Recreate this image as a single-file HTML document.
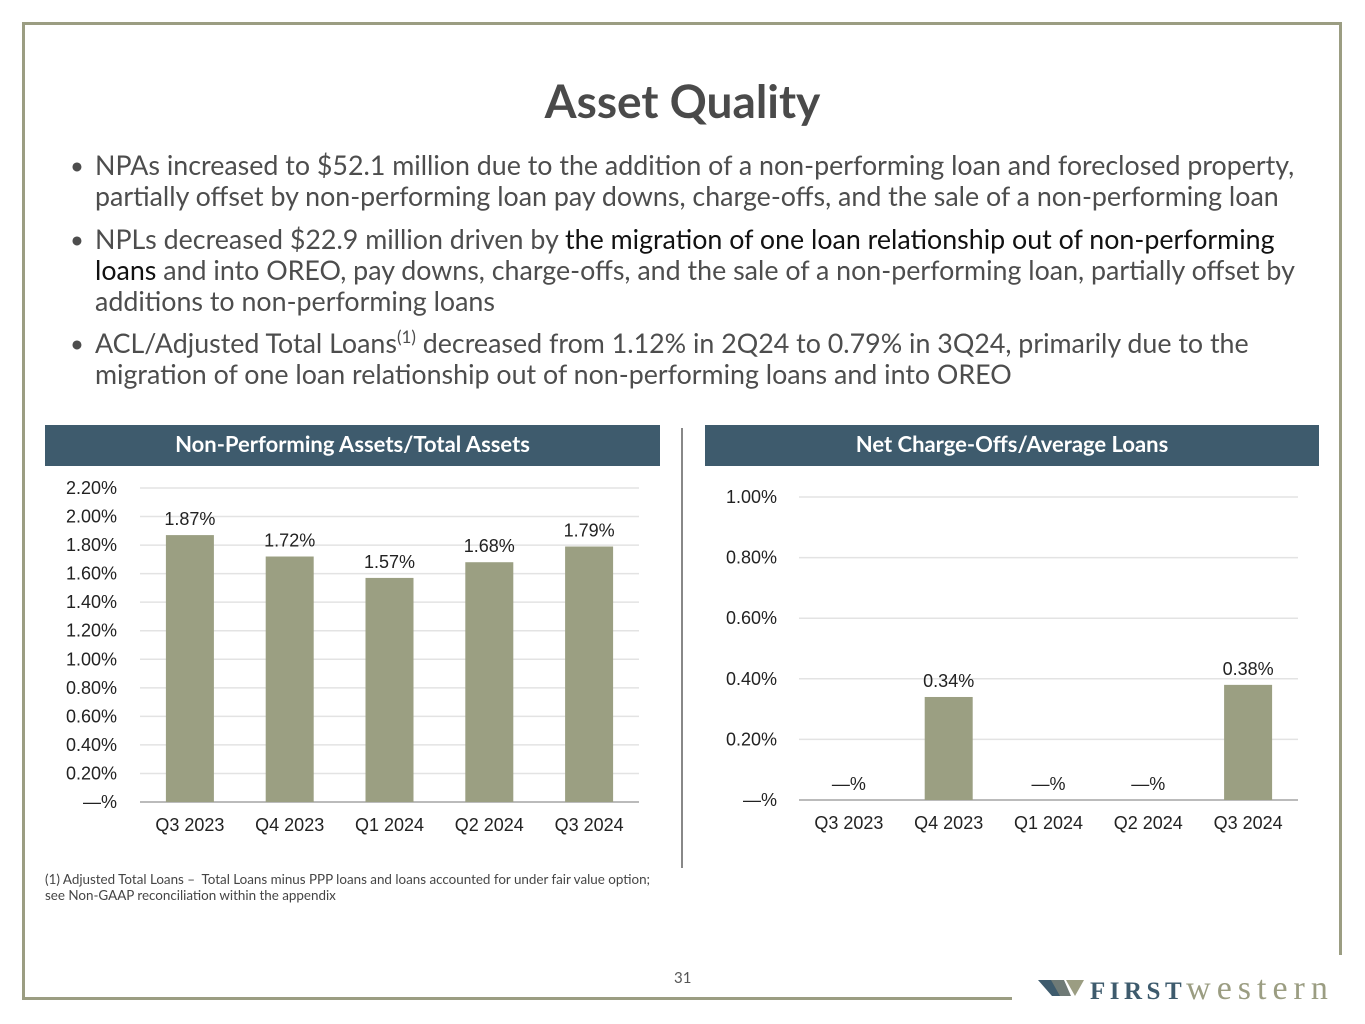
<!DOCTYPE html>
<html><head><meta charset="utf-8"><style>
body{margin:0;width:1365px;height:1024px;background:#fff;position:relative;font-family:"Lato","Liberation Sans",sans-serif;overflow:hidden}
.abs{position:absolute}
.frame{border:3px solid #9b9d82}
h1{position:absolute;top:73px;left:0;width:1365px;text-align:center;margin:0;font-size:46px;color:#4a4a4a;font-weight:bold}
.bul{position:absolute;left:70px;width:1260px;font-size:26.8px;line-height:31px;color:#4d4d4d;white-space:nowrap}
.bul .d{position:absolute;left:0;font-size:24px}
.bul .t{margin-left:25px}
.hdr{position:absolute;top:425px;height:41px;background:#3e5b6d;color:#fff;font-size:22px;font-weight:bold;text-align:center;line-height:38px}
svg text{font-family:"Liberation Sans",sans-serif}
</style></head><body>
<div class="abs frame" style="left:22px;top:22px;width:1314px;height:975px;border-bottom:none;border-right:none"></div>
<div class="abs" style="left:1339px;top:22px;width:3px;height:933px;background:#9b9d82"></div>
<div class="abs" style="left:22px;top:997px;width:990px;height:3px;background:#9b9d82"></div>
<h1>Asset Quality</h1>
<div class="bul" style="top:150px"><span class="d">•</span><div class="t">NPAs increased to $52.1 million due to the addition of a non-performing loan and foreclosed property,<br>partially offset by non-performing loan pay downs, charge-offs, and the sale of a non-performing loan</div></div>
<div class="bul" style="top:224px"><span class="d">•</span><div class="t">NPLs decreased $22.9 million driven by <span style="color:#111">the migration of one loan relationship out of non-performing<br>loans</span> and into OREO, pay downs, charge-offs, and the sale of a non-performing loan, partially offset by<br>additions to non-performing loans</div></div>
<div class="bul" style="top:328px"><span class="d">•</span><div class="t">ACL/Adjusted Total Loans<sup style="font-size:17px;line-height:0">(1)</sup> decreased from 1.12% in 2Q24 to 0.79% in 3Q24, primarily due to the<br>migration of one loan relationship out of non-performing loans and into OREO</div></div>
<div class="hdr" style="left:45px;width:615px">Non-Performing Assets/Total Assets</div>
<div class="hdr" style="left:705px;width:614px">Net Charge-Offs/Average Loans</div>
<div class="abs" style="left:681px;top:428px;width:2px;height:440px;background:#888"></div>
<svg class="abs" style="left:0;top:0" width="1365" height="1024" id="charts"></svg>
<div class="abs" style="left:45px;top:871px;font-size:13.4px;color:#444;line-height:16px">(1) Adjusted Total Loans –&nbsp; Total Loans minus PPP loans and loans accounted for under fair value option;<br>see Non-GAAP reconciliation within the appendix</div>
<div class="abs" style="left:674px;top:969px;font-size:15px;color:#555">31</div>
<div class="abs" style="left:1038px;top:970px;white-space:nowrap">
<svg width="46" height="24" style="vertical-align:-1px"><polygon points="0,4 16,4 23,20 14,20" fill="#3e5b6d"/><polygon points="13,4 26,4 33,20 22,20" fill="#6f7a76"/><polygon points="28,4 46,4 37,20" fill="#9b9d82"/></svg><span style="font-family:'Liberation Serif',serif;font-size:25px;color:#3e5b6d;font-weight:bold;letter-spacing:4.5px;margin-left:6px">FIRST</span><span style="font-family:'Liberation Serif',serif;font-size:34px;color:#9b9d82;letter-spacing:6px">western</span></div>
<script>
const cats=["Q3 2023","Q4 2023","Q1 2024","Q2 2024","Q3 2024"];
const npaVals=[1.87,1.72,1.57,1.68,1.79];
const npaTicks=[0,0.2,0.4,0.6,0.8,1.0,1.2,1.4,1.6,1.8,2.0,2.2];
const ncoVals=[0,0.34,0,0,0.38];
const ncoTicks=[0,0.2,0.4,0.6,0.8,1.0];
const svg=document.getElementById('charts');
const NS='http://www.w3.org/2000/svg';
function mk(tag,a,txt){const e=document.createElementNS(NS,tag);for(const k in a)e.setAttribute(k,a[k]);if(txt!==undefined)e.textContent=txt;svg.appendChild(e);return e;}
function fmt(v){return v===0?'—%':v.toFixed(2)+'%';}
function draw(c,vals,ticks,prefix){
  const y=v=>c.y0-(v/c.max)*(c.y0-c.y1);
  const x=i=>c.x0+(i+0.5)*(c.x1-c.x0)/cats.length;
  ticks.forEach(t=>{
    const g=mk('line',{x1:c.x0,x2:c.x1,y1:y(t),y2:y(t),stroke:t===0?'#bbb':'#e3e3e3','stroke-width':t===0?2:1.5});
    
    
    const l=mk('text',{x:c.lx,y:y(t)+6,'text-anchor':'end','font-size':18,fill:'#222'},fmt(t));
    
    
  });
  vals.forEach((v,i)=>{
    if(v>0){const b=mk('rect',{x:x(i)-24,y:y(v),width:48,height:y(0)-y(v),fill:'#9b9f82'});
    
    }
    const t=mk('text',{x:x(i),y:(v>0?y(v):y(0))-10,'text-anchor':'middle','font-size':18,fill:'#222'},fmt(v));
    
    
    const cl=mk('text',{x:x(i),y:c.catY,'text-anchor':'middle','font-size':18,fill:'#222'},cats[i]);
    
    
  });
}
draw({x0:140,x1:639,y0:802,y1:488,max:2.2,lx:117,catY:831},npaVals,npaTicks,'npa');
draw({x0:799,x1:1298,y0:800,y1:497,max:1.0,lx:777,catY:829},ncoVals,ncoTicks,'nco');
</script>
</body></html>
